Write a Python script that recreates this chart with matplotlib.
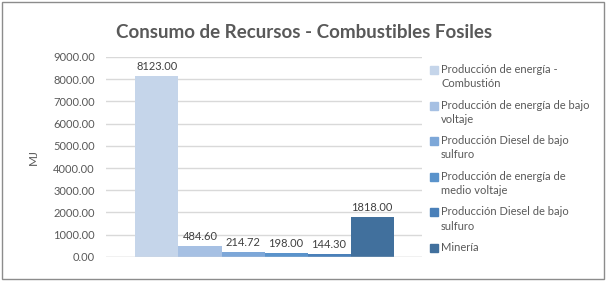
import numpy as np
import matplotlib.pyplot as plt
from matplotlib.patches import Rectangle

plt.rcParams['font.family'] = ['Lato', 'DejaVu Sans']

# data
categorias = ['Producción de energía -\nCombustión',
              'Producción de energía de bajo\nvoltaje',
              'Producción Diesel de bajo\nsulfuro',
              'Producción de energía de\nmedio voltaje',
              'Producción Diesel de bajo\nsulfuro',
              'Minería']
valores = [8123.00, 484.60, 214.72, 198.00, 144.30, 1818.00]
colores = ['#C5D5EA', '#A6C0E3', '#7DA7D8', '#5A93CB', '#4A80B9', '#41709D']
yticks = np.arange(0, 9001, 1000)

gris = '#595959'
fig = plt.figure(figsize=(6.08, 2.82), dpi=100)
fig.patches.append(Rectangle((0.004, 0.01), 0.99, 0.982, transform=fig.transFigure,
                             fill=False, edgecolor='#8c8c8c', lw=1))

ax = fig.add_axes([0.174, 0.089, 0.52, 0.709])
x = np.arange(len(valores))
ax.bar(x, valores, width=1.0, color=colores, zorder=3)
for xi, v in zip(x, valores):
    ax.text(xi, v + 180, f'{v:.2f}', ha='center', va='bottom', fontsize=8, color='#404040')

ax.set_xlim(-1.19, 6.16)
ax.set_ylim(0, 9000)
ax.set_yticks(yticks)
ax.set_yticklabels([f'{t:.2f}' for t in yticks], fontsize=8, color=gris)
ax.yaxis.grid(True, color='#d9d9d9', lw=1, zorder=0)
ax.set_xticks([])
ax.tick_params(axis='y', length=0, pad=8)
for s in ax.spines.values():
    s.set_visible(False)
ax.axhline(0, color='#d9d9d9', lw=1, zorder=4)
ax.set_ylabel('MJ', fontsize=8.5, color=gris, labelpad=10)

fig.text(0.5, 0.885, 'Consumo de Recursos - Combustibles Fosiles', ha='center', va='center',
         fontsize=13.5, fontweight='bold', color=gris)

# leyenda manual
W, H = 608, 282
for i, (lab, c) in enumerate(zip(categorias, colores)):
    ytop = 64 + i * 35.6
    fig.patches.append(Rectangle((430 / W, 1 - (ytop + 10) / H), 8 / W, 8 / H,
                                 transform=fig.transFigure, color=c))
    fig.text(441 / W, 1 - ytop / H, lab, ha='left', va='top', fontsize=8,
             color=gris, linespacing=1.35)

fig.savefig('out.png', dpi=100)
